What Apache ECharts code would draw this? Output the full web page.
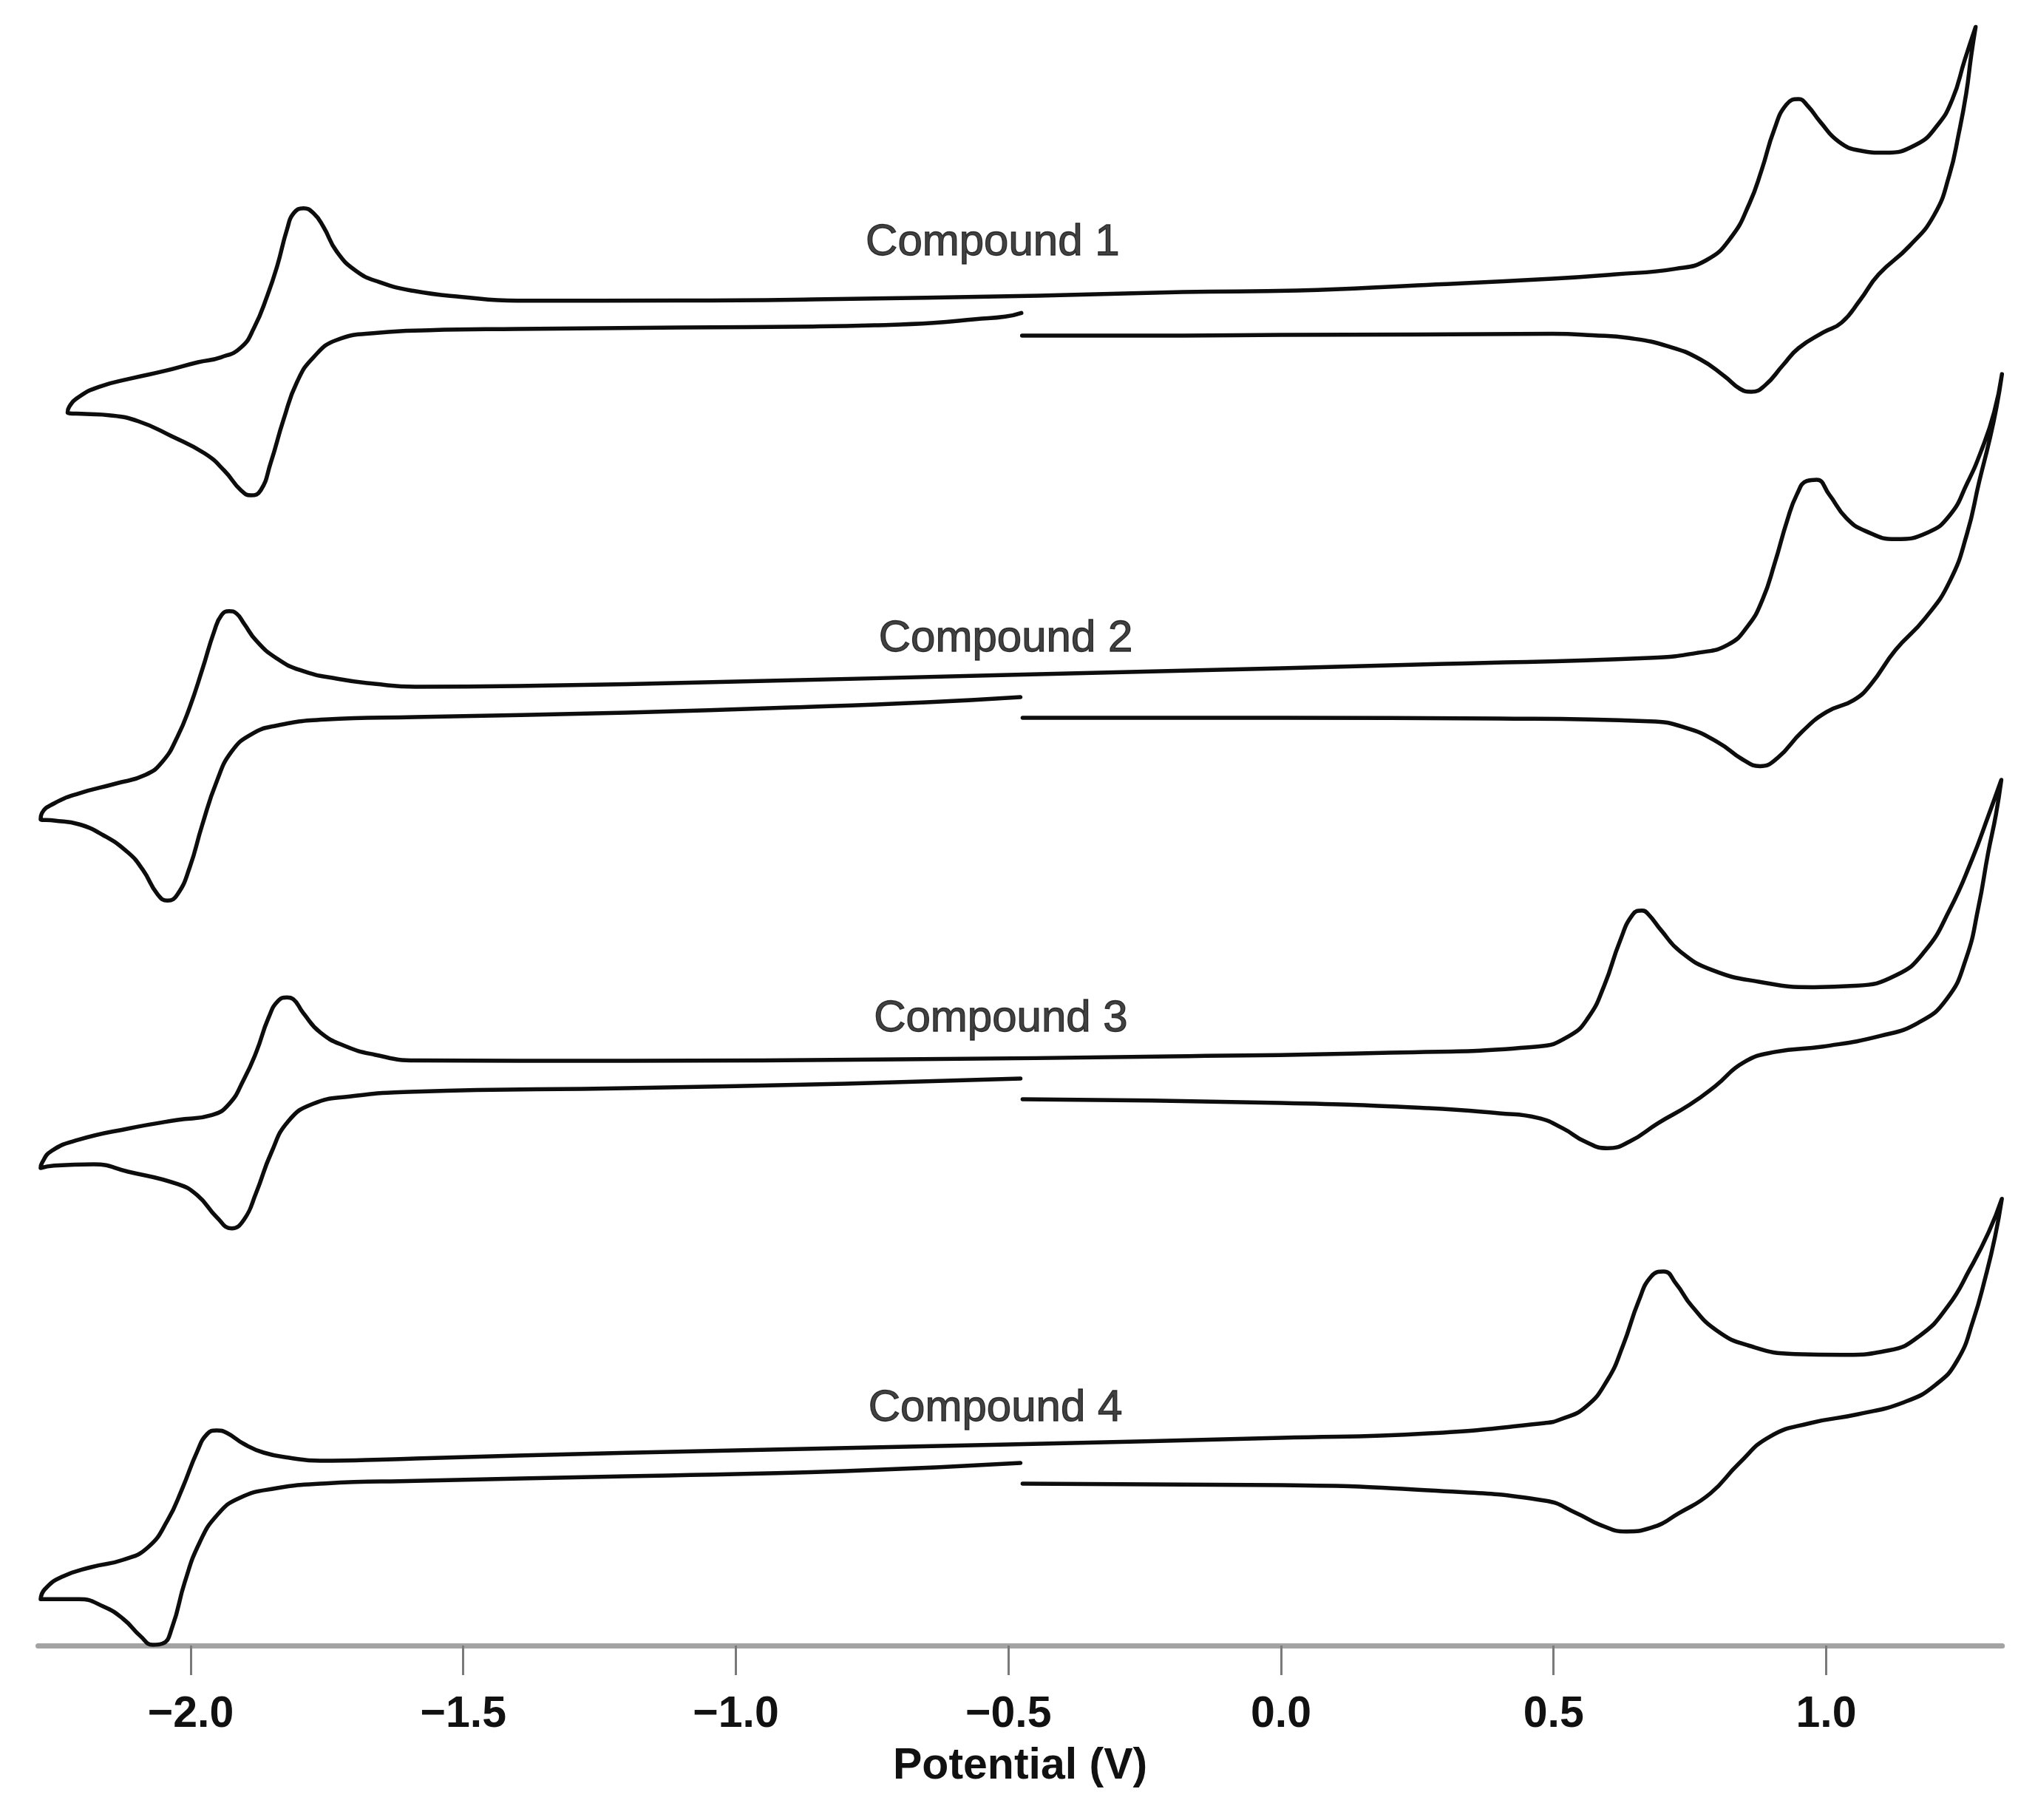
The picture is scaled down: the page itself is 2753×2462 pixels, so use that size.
<!DOCTYPE html>
<html>
<head>
<meta charset="utf-8">
<script src="https://cdn.jsdelivr.net/npm/echarts@6/dist/echarts.min.js"></script>
<style>
html,body{margin:0;padding:0;background:#fff;}
#chart{width:2753px;height:2462px;}
</style>
</head>
<body>
<div id="chart"></div>
<script>
// Tick positions / labels on the potential axis (V)
const tickValues = [-2.0, -1.5, -1.0, -0.5, 0.0, 0.5, 1.0];
const tickLabels = ['\u22122.0', '\u22121.5', '\u22121.0', '\u22120.5', '0.0', '0.5', '1.0'];

// Compound names and where their labels sit (potential, stacked current)
const compoundNames = ['Compound 1', 'Compound 2', 'Compound 3', 'Compound 4'];
const labelPotential = [-0.529, -0.505, -0.514, -0.524];
const labelCurrent = [1898, 1362, 848, 321];

// Compound 1 CV trace (potential V, stacked current a.u.), in scan order
const c1Potential = [-0.475,-0.180,0.000,0.250,0.4976,0.5708,0.6386,0.7119,0.7688,0.8136,0.8420,0.8624,0.8868,0.9207,0.9492,0.9946,1.0285,1.0624,1.0963,1.1525,1.1980,1.2258,1.2434,1.2569,1.2658,1.2742,
  1.2542,1.2317,1.2035,1.1641,1.1075,1.0624,1.0228,0.9889,0.9664,0.9494,0.9268,0.9044,0.8818,0.8591,0.8252,0.7801,0.7235,0.6106,0.4976,0.250,0.031,-0.180,-0.445,-0.858,-1.100,-1.4007,
  -1.5024,-1.593,-1.6537,-1.6963,-1.7324,-1.7566,-1.7749,-1.793,-1.811,-1.8232,-1.8414,-1.8595,-1.8837,-1.9078,-1.9444,-1.9866,-2.0472,-2.1077,-2.1683,-2.2048,-2.2227,-2.2258,
  -2.1925,-2.15,-2.0956,-2.0352,-1.9745,-1.9382,-1.9078,-1.8898,-1.8716,-1.8535,-1.8293,-1.805,-1.7748,-1.7324,-1.6537,-1.5628,-1.4007,-1.100,-0.8583,-0.7457,-0.6373,-0.5600,-0.5058,-0.4763];
const c1Current = [1772,1772,1773,1773.5,1774.4,1772.5,1768.7,1757.2,1740,1717,1700,1696,1704,1732,1755,1776.3,1789.7,1820.3,1854.8,1893,1935,1988.7,2046,2099.7,2149.5,2189.6,
  2145,2092,2056,2030,2019.5,2022.3,2034.6,2061.4,2082.5,2092,2084.4,2050,1996.4,1950.5,1904.5,1874,1862.4,1854.8,1849,1840,1833,1831,1826,1821,1819.5,1819.3,
  1824.3,1832.7,1844.3,1859.3,1886,1919.3,1937.7,1944.3,1937.7,1916,1866,1826,1782.7,1756,1742.7,1736,1724.3,1714.3,1702.7,1689.3,1676,1667.7,
  1666,1664.3,1656,1636,1612.7,1589.3,1562.7,1556,1562.7,1599.3,1659.3,1709.3,1742.7,1766,1776,1779.3,1781,1783,1784.3,1786,1789.3,1794.3,1797.7,1802.7];

// Compound 2
const c2Potential = [-0.474,0.000,0.400,0.6753,0.743,0.8018,0.847,0.8786,0.9103,0.9555,1.0007,1.0504,1.082,1.1272,1.1815,1.2267,1.2583,1.281,1.299,1.3125,1.3225,
  1.308,1.2854,1.2583,1.2267,1.186,1.1272,1.0729,1.0369,1.0052,0.9826,0.9645,0.9464,0.9284,0.9058,0.8831,0.856,0.8199,0.7657,0.6753,0.300,0.000,-0.500,-1.000,-1.400,-1.5878,
  -1.6628,-1.7306,-1.7984,-1.8436,-1.8798,-1.9024,-1.9159,-1.9295,-1.9431,-1.9566,-1.9792,-2.0018,-2.0244,-2.0515,-2.0832,-2.1374,-2.2052,-2.2504,-2.2730,-2.2753,
  -2.2504,-2.2052,-2.16,-2.1149,-2.0878,-2.0606,-2.0425,-2.0244,-2.0018,-1.9792,-1.9521,-1.925,-1.8888,-1.8436,-1.7532,-1.5878,-1.200,-0.900,-0.650,-0.478];
const c2Current = [1255,1255,1254,1250.3,1241.4,1221.7,1198.5,1189.6,1200.3,1236,1262.8,1278.9,1300.3,1346.7,1389.6,1439.6,1503.9,1575.3,1628.9,1675.3,1719.9,
  1668.1,1618.1,1571.7,1528.9,1505.6,1496.7,1507.4,1525.3,1557.4,1577.1,1575.3,1557.4,1521.7,1464.6,1414.6,1378.9,1353.9,1343.1,1336,1328,1322,1313,1304,1298,1297,
  1301,1307.7,1319.3,1336,1359.3,1382.7,1396,1399.3,1394.3,1372.7,1319.3,1269.3,1229.3,1196,1177.7,1166,1152.7,1139.3,1126,1117.7,
  1116,1111,1096,1072.7,1049.3,1016,1007.7,1016,1052.7,1109.3,1169.3,1209.3,1232.7,1244.3,1252.7,1256,1262,1269,1276,1283];

// Compound 3
const c3Potential = [-0.474,0.000,0.270,0.400,0.4705,0.517,0.5578,0.5985,0.6393,0.6917,0.7498,0.7964,0.8488,0.907,0.9943,1.0991,1.1689,1.2212,1.2561,1.2795,1.2968,1.3115,1.3213,
  1.2968,1.2678,1.227,1.1805,1.1281,1.0525,0.9768,0.8778,0.7905,0.7323,0.6975,0.6742,0.6625,0.6452,0.6218,0.5927,0.5637,0.5287,0.4705,0.200,-0.200,-0.700,-1.200,-1.5878,
  -1.6628,-1.717,-1.7623,-1.7939,-1.8119,-1.8233,-1.839,-1.8572,-1.8798,-1.9024,-1.9295,-1.9611,-2.0244,-2.1149,-2.2052,-2.2549,-2.273,-2.2753,
  -2.2504,-2.1781,-2.1149,-2.0244,-1.9882,-1.9521,-1.925,-1.9024,-1.8798,-1.8526,-1.821,-1.7759,-1.7081,-1.5878,-1.200,-0.800,-0.478];
const c3Current = [739,734,727,720,713.9,699.6,681.7,672.8,681.7,706.7,731.7,756.7,788.9,803.1,810.3,824.6,842.4,874.6,928.1,999.6,1071,1124.6,1171,
  1121,1063.9,996,938.9,906.7,892.4,890.6,897.8,913.9,938.9,967.4,988.9,994.2,988.9,953.1,892.4,849.6,824.6,810.3,802,797,793,791,791.5,
  799.3,811,829.3,856,874.3,876.7,872.7,849.3,802.7,766,732.7,717.7,711,699.3,684.3,669.3,652.7,646,
  649.3,651,641,624.3,609.3,579.3,564.3,576,612.7,666,709.3,732.7,742.7,749.3,754,760,767];

// Compound 4
const c4Potential = [-0.474,0.000,0.270,0.4841,0.5414,0.5873,0.6331,0.679,0.7306,0.7879,0.8396,0.8969,0.9714,1.0574,1.1433,1.2007,1.2408,1.2695,1.2925,1.3097,1.3223,
  1.2982,1.2637,1.2236,1.1721,1.1147,1.0287,0.9428,0.8568,0.7995,0.7535,0.7249,0.702,0.679,0.656,0.6274,0.5988,0.5586,0.5127,0.4841,0.270,0.000,-0.500,-1.000,-1.400,-1.5878,
  -1.6267,-1.7623,-1.821,-1.8662,-1.9024,-1.934,-1.9521,-1.97,-1.988,-2.0153,-2.0425,-2.0786,-2.1238,-2.1827,-2.2369,-2.2678,-2.2753,
  -2.2504,-2.2052,-2.16,-2.1238,-2.0922,-2.0696,-2.0515,-2.0335,-2.0108,-1.9837,-1.9521,-1.9115,-1.8436,-1.7532,-1.5878,-1.200,-0.800,-0.478];
const c4Current = [219,217,210,196,179.3,162.7,154.3,159.3,179.3,206,246,282.7,301,312.7,329.3,352.7,386,439.3,499.3,552.7,604.3,
  559.3,509.3,459.3,419.3,399.3,393.3,394.3,406,426,459.3,489.3,506,499.3,466,406,359.3,322.7,306,301,287,281,272,264,257,253,
  252,250,254.3,261,272.7,287.7,291,286,262.7,212.7,169.3,132.7,116,106,92.7,76,62.7,
  62.7,62.7,52.7,36,12.7,1,2.7,26,86,139.3,176,199.3,212.7,219.3,222.7,229,236,247];

function zip(xs, ys) { return xs.map((x, i) => [x, ys[i]]); }

const traces = [
  zip(c1Potential, c1Current),
  zip(c2Potential, c2Current),
  zip(c3Potential, c3Current),
  zip(c4Potential, c4Current)
];

const FONT = "'Liberation Sans', Arial, Helvetica, sans-serif";

const series = traces.map((d, i) => ({
  type: 'line',
  name: compoundNames[i],
  data: d,
  showSymbol: false,
  symbol: 'none',
  smooth: 0.5,
  clip: false,
  lineStyle: { color: '#0d0d0d', width: 5.5, join: 'round', cap: 'round' },
  silent: true,
  z: 3
}));

series.push({
  type: 'scatter',
  symbolSize: 0,
  silent: true,
  data: compoundNames.map((n, i) => ({ name: n, value: [labelPotential[i], labelCurrent[i]] })),
  label: {
    show: true,
    position: 'inside',
    formatter: '{b}',
    color: '#111111',
    fontFamily: FONT,
    fontSize: 60,
    fontWeight: 'normal',
    textBorderColor: '#111111',
    textBorderWidth: 1.3
  },
  z: 4
});

const chart = echarts.init(document.getElementById('chart'), null, { renderer: 'canvas' });
chart.setOption({
  animation: false,
  backgroundColor: '#ffffff',
  grid: { left: 51.5, right: 44.3, top: 14, bottom: 236, containLabel: false },
  xAxis: {
    type: 'value',
    min: -2.28,
    max: 1.323,
    name: 'Potential (V)',
    nameLocation: 'middle',
    nameGap: 134,
    nameTextStyle: { fontFamily: FONT, fontSize: 59, fontWeight: 'bold', color: '#111111' },
    axisLine: { show: true, onZero: false, lineStyle: { color: '#a3a3a3', width: 7 } },
    axisTick: { show: true, customValues: tickValues, length: 40, lineStyle: { color: '#7a7a7a', width: 3 } },
    axisLabel: {
      show: true,
      customValues: tickValues,
      margin: 64,
      fontFamily: FONT,
      fontSize: 59,
      fontWeight: 'bold',
      color: '#111111',
      formatter: function (v) {
        for (let i = 0; i < tickValues.length; i++) {
          if (Math.abs(tickValues[i] - v) < 1e-6) return tickLabels[i];
        }
        return '';
      }
    },
    splitLine: { show: false }
  },
  yAxis: {
    type: 'value',
    min: 0,
    max: 2212,
    show: false,
    splitLine: { show: false }
  },
  tooltip: { show: false },
  series: series
});
</script>
</body>
</html>
